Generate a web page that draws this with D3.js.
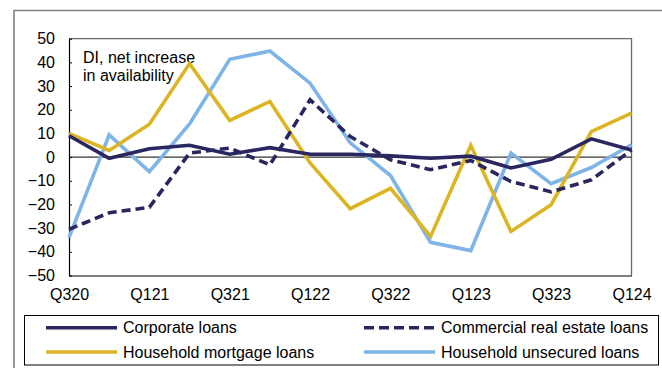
<!DOCTYPE html>
<html>
<head>
<meta charset="utf-8">
<script src="https://cdn.jsdelivr.net/npm/d3@7"></script>
<style>
  html, body { margin: 0; padding: 0; background: #fff; }
  svg text { font-family: "Liberation Sans", Arial, sans-serif; fill: #000; }
</style>
</head>
<body>
<svg id="chart" width="662" height="368"></svg>
<script>
// Quarters Q3 2020 .. Q1 2024
const quarters = ["Q320","Q420","Q121","Q221","Q321","Q421","Q122","Q222","Q322","Q422","Q123","Q223","Q323","Q423","Q124"];
const tickLabels = ["Q320","Q121","Q321","Q122","Q322","Q123","Q323","Q124"];
const yTicks = [50, 40, 30, 20, 10, 0, -10, -20, -30, -40, -50];

const corporate  = [9, -0.5, 3.5, 5, 1.2, 4, 1.2, 1.2, 0.5, -0.5, 0.4, -4.6, -0.9, 7.7, 3];
const commercial = [-30.5, -23.5, -21.2, 1.7, 3.8, -3.3, 24.2, 8.7, -1.1, -5.3, -1.4, -10.3, -14.7, -9.6, 3];
const mortgage   = [10, 2.8, 13.9, 39.5, 15.5, 23.5, -2.5, -21.8, -13.2, -33.5, 5, -31.4, -20.1, 10.8, 18.6];
const unsecured  = [-34, 9.4, -6.1, 14, 41.3, 44.8, 31.2, 6, -7.8, -36, -39.5, 1.7, -11.2, -4.4, 5.2];

const seriesNames = ["Corporate loans", "Commercial real estate loans", "Household mortgage loans", "Household unsecured loans"];

const navy = "#2a265f", gold = "#dbb524", sky = "#7fb5e6";
const series = [
  { name: seriesNames[0], values: corporate,  color: navy, dash: null },
  { name: seriesNames[1], values: commercial, color: navy, dash: "9,5" },
  { name: seriesNames[2], values: mortgage,   color: gold, dash: null },
  { name: seriesNames[3], values: unsecured,  color: sky,  dash: null }
];

const FONT = 16;
const svg = d3.select("#chart");
const plot = { left: 69, right: 631.5, top: 38.7, bottom: 275.5 };

// outer frame
svg.append("path")
  .attr("d", "M14,368 L14,10.5 L662,10.5")
  .attr("fill", "none").attr("stroke", "#808080").attr("stroke-width", 1.6);

const x = d3.scalePoint().domain(quarters).range([plot.left, plot.right]);
const y = d3.scaleLinear().domain([-50, 50]).range([plot.bottom, plot.top]);

// plot frame: grey top/right, black axes
svg.append("path")
  .attr("d", `M${plot.left},${plot.top} L${plot.right},${plot.top} L${plot.right},${plot.bottom}`)
  .attr("fill", "none").attr("stroke", "#6a6a6a").attr("stroke-width", 1.3);

// zero line
svg.append("line")
  .attr("x1", plot.left).attr("x2", plot.right)
  .attr("y1", y(0)).attr("y2", y(0))
  .attr("stroke", "#000").attr("stroke-width", 1);

// y axis with inward ticks
const yAxis = svg.append("g")
  .attr("transform", `translate(${plot.left},0)`)
  .call(d3.axisLeft(y).tickValues(yTicks).tickSizeInner(-3).tickSizeOuter(0).tickPadding(14));
yAxis.select(".domain").attr("stroke", "#000").attr("stroke-width", 1.2);
yAxis.selectAll(".tick line").attr("stroke", "#000");
yAxis.selectAll(".tick text").attr("font-size", FONT).attr("font-family", "Liberation Sans, Arial, sans-serif").attr("fill", "#000");

// x axis
const xAxis = svg.append("g")
  .attr("transform", `translate(0,${plot.bottom})`)
  .call(d3.axisBottom(x).tickValues(tickLabels).tickSize(0).tickPadding(13));
xAxis.select(".domain").attr("stroke", "#000").attr("stroke-width", 1.2);
xAxis.selectAll(".tick text").attr("font-size", FONT).attr("font-family", "Liberation Sans, Arial, sans-serif").attr("fill", "#000");

// annotation
const note = svg.append("text").attr("font-size", FONT);
note.append("tspan").attr("x", 83).attr("y", 62.5).text("DI, net increase");
note.append("tspan").attr("x", 83).attr("y", 80.5).text("in availability");

// series lines (draw order: unsecured, mortgage, commercial, corporate)
const line = d3.line().x((d, i) => x(quarters[i])).y(d => y(d));
const drawOrder = [series[3], series[2], series[1], series[0]];
svg.append("g").selectAll("path")
  .data(drawOrder)
  .join("path")
  .attr("d", d => line(d.values))
  .attr("fill", "none")
  .attr("stroke", d => d.color)
  .attr("stroke-width", 3.6)
  .attr("stroke-linejoin", "miter")
  .attr("stroke-dasharray", d => d.dash);

// legend
svg.append("rect")
  .attr("x", 24.5).attr("y", 315.5).attr("width", 634).attr("height", 49.5)
  .attr("fill", "#fff").attr("stroke", "#000").attr("stroke-width", 1);

const legendPos = [
  { lx: 46, ly: 327.7 }, { lx: 364, ly: 327.7 },
  { lx: 46, ly: 352 },   { lx: 364, ly: 352 }
];
const legend = svg.append("g").selectAll("g")
  .data(series)
  .join("g")
  .attr("transform", (d, i) => `translate(${legendPos[i].lx},${legendPos[i].ly})`);
legend.append("line")
  .attr("x1", 0).attr("x2", 71)
  .attr("y1", 0).attr("y2", 0)
  .attr("stroke", d => d.color).attr("stroke-width", 3.6)
  .attr("stroke-dasharray", d => d.dash ? "10,5" : null);
legend.append("text")
  .attr("x", 77)
  .attr("y", 5.6)
  .attr("font-size", FONT)
  .text(d => d.name);
</script>
</body>
</html>
